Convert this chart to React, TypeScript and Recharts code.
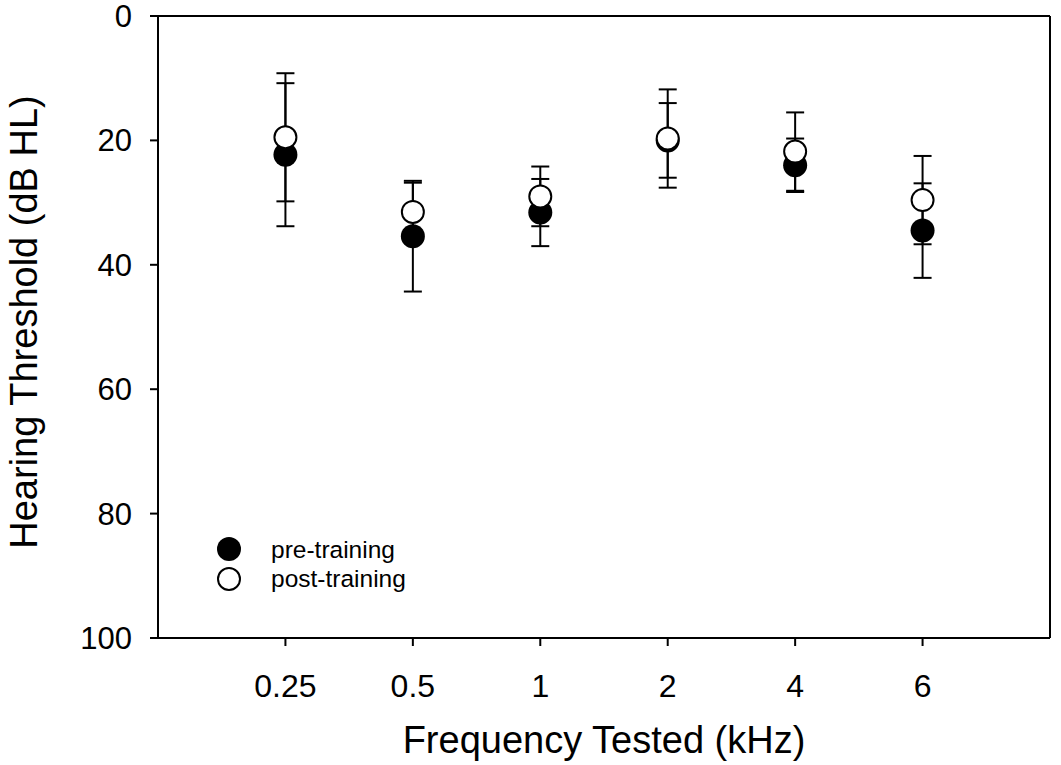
import React from 'react';
import { ScatterChart, Scatter, XAxis, YAxis, ErrorBar, ReferenceLine, Legend } from 'recharts';

const freqLabels = ['0.25', '0.5', '1', '2', '4', '6'];
const preMean = [22.3, 35.4, 31.6, 20.0, 24.0, 34.5];
const preErr = [11.5, 8.9, 5.4, 6.0, 4.3, 7.6];
const postMean = [19.5, 31.5, 29.0, 19.7, 21.8, 29.6];
const postErr = [10.3, 4.7, 4.8, 7.9, 6.3, 7.1];
const yTicks = [0, 20, 40, 60, 80, 100];
const seriesNames = ['pre-training', 'post-training'];

const FONT = '"Liberation Sans", Arial, sans-serif';

const preData = freqLabels.map((f, i) => ({ x: i + 1, y: preMean[i], err: preErr[i], label: f }));
const postData = freqLabels.map((f, i) => ({ x: i + 1, y: postMean[i], err: postErr[i], label: f }));

const FilledDot = (props: any) => {
  const { cx, cy } = props;
  if (cx == null || cy == null) return null;
  return <circle cx={cx} cy={cy} r={12} fill="#000" />;
};
const OpenDot = (props: any) => {
  const { cx, cy } = props;
  if (cx == null || cy == null) return null;
  return <circle cx={cx} cy={cy} r={11} fill="#fff" stroke="#000" strokeWidth={2} />;
};

const renderLegend = () => (
  <svg width={230} height={64} style={{ display: 'block' }}>
    <circle cx={29} cy={19} r={12} fill="#000" />
    <text x={71} y={28} fontFamily={FONT} fontSize={24.5} fill="#000">{seriesNames[0]}</text>
    <circle cx={29} cy={49} r={11} fill="#fff" stroke="#000" strokeWidth={2} />
    <text x={71} y={57} fontFamily={FONT} fontSize={24.5} fill="#000">{seriesNames[1]}</text>
  </svg>
);

const XTitle = (props: any) => {
  const vb = props.viewBox || {};
  const cx = vb.x + vb.width / 2;
  return (
    <text x={cx} y={753} textAnchor="middle" fontFamily={FONT} fontSize={38} fill="#000">
      Frequency Tested (kHz)
    </text>
  );
};
const YTitle = (props: any) => {
  const vb = props.viewBox || {};
  const cy = vb.y + vb.height / 2 - 5;
  const x = 24;
  return (
    <text
      x={x}
      y={cy}
      transform={`rotate(-90, ${x}, ${cy})`}
      textAnchor="middle"
      dominantBaseline="central"
      fontFamily={FONT}
      fontSize={38}
      fill="#000"
    >
      Hearing Threshold (dB HL)
    </text>
  );
};

export default function App() {
  return (
    <div style={{ position: 'absolute', left: 0, top: 0, width: 1061, height: 765, background: '#fff' }}>
      <ScatterChart width={1061} height={765} margin={{ top: 16, right: 11, left: 0, bottom: 0 }}>
        <XAxis
          type="number"
          dataKey="x"
          domain={[0, 7]}
          ticks={[1, 2, 3, 4, 5, 6]}
          interval={0}
          tickFormatter={(v: number) => freqLabels[v - 1] ?? ''}
          height={127}
          axisLine={{ stroke: '#000', strokeWidth: 2 }}
          tickLine={{ stroke: '#000', strokeWidth: 2 }}
          tickSize={8}
          tickMargin={28}
          tick={{ fill: '#000', fontSize: 32, fontFamily: FONT }}
          label={<XTitle />}
          allowDataOverflow
        />
        <YAxis
          type="number"
          dataKey="y"
          domain={[0, 100]}
          ticks={yTicks}
          interval={0}
          reversed
          width={158}
          axisLine={{ stroke: '#000', strokeWidth: 2 }}
          tickLine={{ stroke: '#000', strokeWidth: 2 }}
          tickSize={8}
          tickMargin={18}
          tick={{ fill: '#000', fontSize: 31, fontFamily: FONT }}
          label={<YTitle />}
          allowDataOverflow
        />
        <ReferenceLine y={0} stroke="#000" strokeWidth={2} />
        <ReferenceLine x={7} stroke="#000" strokeWidth={2} />
        <Scatter name={seriesNames[0]} data={preData} shape={<FilledDot />} isAnimationActive={false}>
          <ErrorBar dataKey="err" direction="y" width={9} stroke="#000" strokeWidth={2} isAnimationActive={false} />
        </Scatter>
        <Scatter name={seriesNames[1]} data={postData} shape={<OpenDot />} isAnimationActive={false}>
          <ErrorBar dataKey="err" direction="y" width={9} stroke="#000" strokeWidth={2} isAnimationActive={false} />
        </Scatter>
        <Legend
          layout="vertical"
          align="center"
          verticalAlign="middle"
          content={renderLegend}
          wrapperStyle={{ left: 200, top: 530, width: 230, height: 64 }}
        />
      </ScatterChart>
    </div>
  );
}
